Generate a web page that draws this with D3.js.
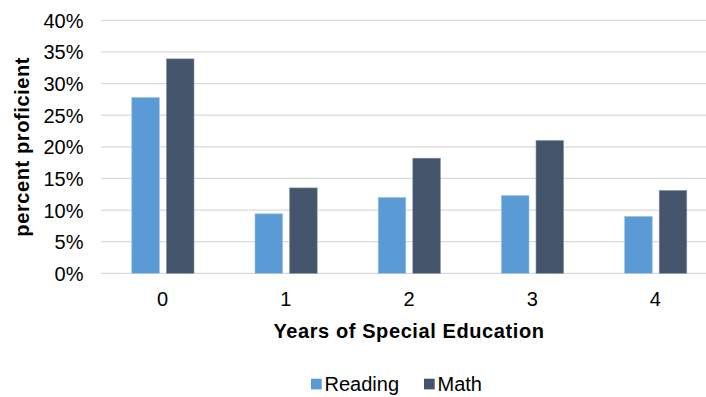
<!DOCTYPE html>
<html>
<head>
<meta charset="utf-8">
<script src="https://cdn.jsdelivr.net/npm/d3@7"></script>
<style>
  html, body { margin: 0; padding: 0; background: #fff; }
  svg text { font-family: "Liberation Sans", Arial, sans-serif; fill: #000; }
</style>
</head>
<body>
<svg id="chart" width="706" height="397"></svg>
<script>
const categories = ["0", "1", "2", "3", "4"];
const seriesNames = ["Reading", "Math"];
const readingValues = [0.278, 0.094, 0.120, 0.123, 0.090];
const mathValues = [0.339, 0.135, 0.182, 0.210, 0.131];
const yTicks = [0, 0.05, 0.10, 0.15, 0.20, 0.25, 0.30, 0.35, 0.40];
const colors = ["#5B9BD5", "#44546A"];

const svg = d3.select("#chart");
const plotLeft = 101, plotRight = 717, plotTop = 20.3, plotBottom = 273.3;

const x = d3.scaleBand().domain(categories).range([plotLeft, plotRight]).paddingInner(0).paddingOuter(0);
const x1 = d3.scaleBand().domain(seriesNames).range([30.8, 30.8 + 62.2]).paddingInner(0.2023).paddingOuter(0);
const y = d3.scaleLinear().domain([0, 0.40]).range([plotBottom, plotTop]);

// gridlines
svg.append("g").selectAll("line").data(yTicks).join("line")
  .attr("x1", plotLeft).attr("x2", 706)
  .attr("y1", d => y(d)).attr("y2", d => y(d))
  .attr("stroke", "#d9d9d9").attr("stroke-width", 1.3);

// y axis labels
const yAxis = d3.axisLeft(y).tickValues(yTicks).tickFormat(d3.format(".0%")).tickSize(0).tickPadding(0);
const yg = svg.append("g").attr("transform", `translate(83.5,0)`).call(yAxis);
yg.select(".domain").remove();
yg.selectAll("text").style("font-size", "20px").attr("fill", "#000").attr("dy", "0.35em");

// bars
const data = categories.map((c, i) => ({ cat: c, vals: [readingValues[i], mathValues[i]] }));
const groups = svg.append("g").selectAll("g").data(data).join("g")
  .attr("transform", d => `translate(${x(d.cat)},0)`);
groups.selectAll("rect").data(d => d.vals.map((v, j) => ({ name: seriesNames[j], v, j }))).join("rect")
  .attr("x", d => x1(d.name))
  .attr("width", x1.bandwidth())
  .attr("y", d => y(d.v))
  .attr("height", d => y(0) - y(d.v))
  .attr("fill", d => colors[d.j])
  .attr("stroke", d => d.j === 0 ? "#9dc3e6" : "#8496b0")
  .attr("stroke-width", 0.6);

// x axis labels
const xAxis = d3.axisBottom(x).tickSize(0).tickPadding(0);
const xg = svg.append("g").attr("transform", `translate(0,${plotBottom})`).call(xAxis);
xg.select(".domain").remove();
xg.selectAll("text").style("font-size", "20px").attr("fill", "#000").attr("dy", null).attr("y", 33);

// axis titles
svg.append("text").attr("x", (plotLeft + plotRight) / 2).attr("y", 338)
  .attr("text-anchor", "middle").style("font-size", "20px").style("font-weight", "bold")
  .style("letter-spacing", "0.6px")
  .text("Years of Special Education");
svg.append("text").attr("transform", `translate(29,${(plotTop + plotBottom) / 2}) rotate(-90)`)
  .attr("text-anchor", "middle").style("font-size", "20px").style("font-weight", "bold")
  .style("letter-spacing", "0.6px")
  .text("percent proficient");

// legend
const legendItems = [{ name: "Reading", x: 311 }, { name: "Math", x: 424 }];
const lg = svg.append("g").selectAll("g").data(legendItems).join("g");
lg.append("rect").attr("x", d => d.x).attr("y", 378.7).attr("width", 10.7).attr("height", 10.7)
  .attr("fill", (d, i) => colors[i]);
lg.append("text").attr("x", d => d.x + 13.5).attr("y", 390.5).style("font-size", "20px").text(d => d.name);
</script>
</body>
</html>
